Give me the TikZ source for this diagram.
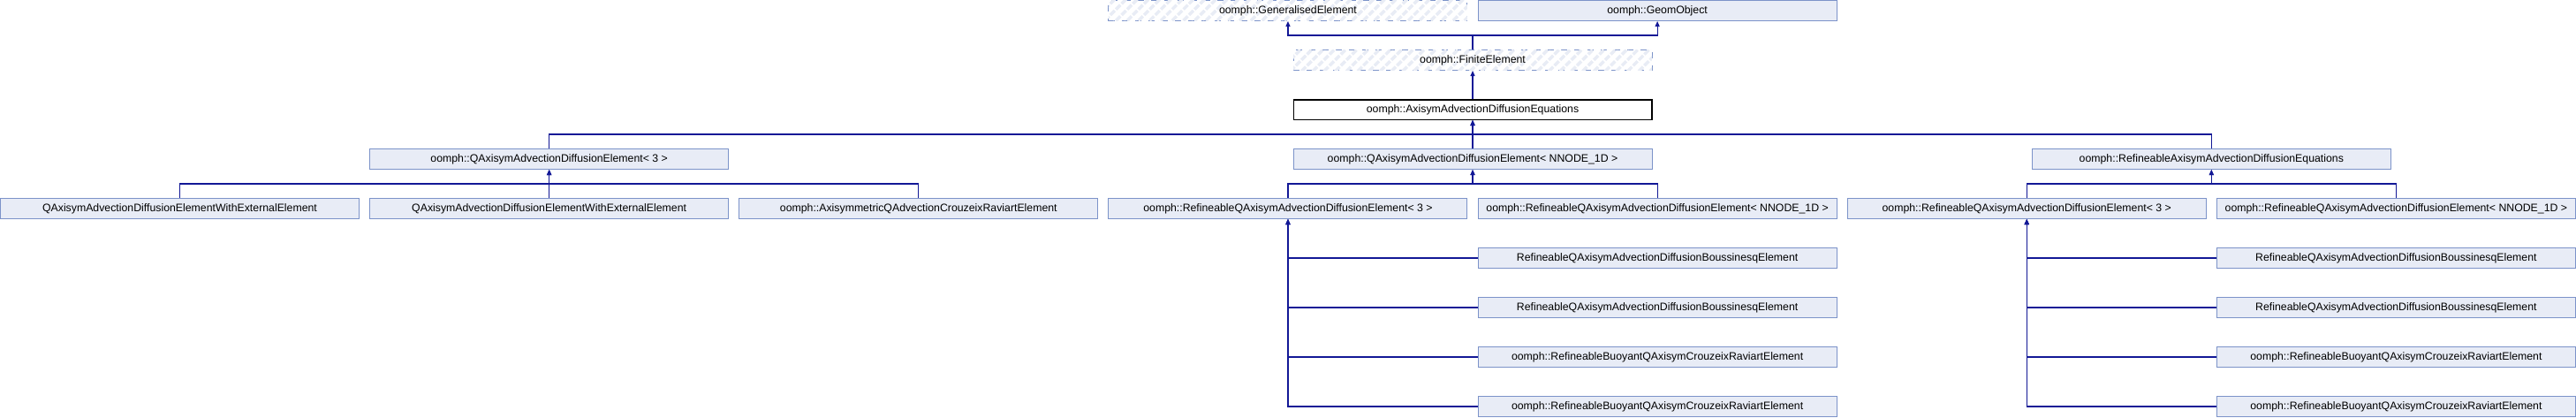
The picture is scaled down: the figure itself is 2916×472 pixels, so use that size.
\documentclass[tikz,border=0pt]{standalone}
\usepackage{fontspec}
\setmainfont{Liberation Sans}
\usetikzlibrary{arrows.meta,calc,patterns.meta}
\definecolor{boxfill}{HTML}{E8ECF6}
\definecolor{boxline}{HTML}{7C93C9}
\definecolor{conncol}{RGB}{18,24,150}
\definecolor{hatch}{HTML}{E8ECF5}
\tikzset{
  cls/.style={draw=boxline, fill=boxfill, line width=1pt, minimum width=406pt, minimum height=23pt,
    inner sep=0pt, font=\fontsize{12.3}{14}\selectfont},
  undoc/.style={draw=boxline, line width=1pt, dash pattern=on 7pt off 8pt, fill=white,
    postaction={pattern={Lines[angle=45,distance=9pt,line width=3.5pt]}, pattern color=hatch},
    minimum width=406pt, minimum height=23pt, inner sep=0pt, font=\fontsize{12.3}{14}\selectfont},
  cur/.style={draw=black, fill=white, line width=1.5pt, minimum width=405.5pt, minimum height=22.5pt,
    inner sep=0pt, font=\fontsize{12.3}{14}\selectfont},
  conn/.style={draw=conncol, line width=1.1pt, -{Triangle[length=6pt,width=5pt]}},
}
\def\P{418.15}
\begin{document}
\begin{tikzpicture}[x=1pt,y={(0pt,-1pt)}]
\useasboundingbox (0,0) rectangle (2916,472);
% row 0
\node[undoc] (ge) at ({3*\P+203.5},12) {oomph::GeneralisedElement};
\node[cls]   (go) at ({4*\P+203.5},12) {oomph::GeomObject};
% row 1
\node[undoc] (fe) at ({3.5*\P+203.5},68) {oomph::FiniteElement};
% row 2
\node[cur] (ade) at ({3.5*\P+203.5},124) {oomph::AxisymAdvectionDiffusionEquations};
% row 3
\node[cls] (q3)  at ({1*\P+203.5},180) {oomph::QAxisymAdvectionDiffusionElement< 3 >};
\node[cls] (qn)  at ({3.5*\P+203.5},180) {oomph::QAxisymAdvectionDiffusionElement< NNODE\_1D >};
\node[cls] (rade) at ({5.5*\P+203.5},180) {oomph::RefineableAxisymAdvectionDiffusionEquations};
% row 4
\node[cls] (wa) at ({0*\P+203.5},236) {QAxisymAdvectionDiffusionElementWithExternalElement};
\node[cls] (wb) at ({1*\P+203.5},236) {QAxisymAdvectionDiffusionElementWithExternalElement};
\node[cls] (acr) at ({2*\P+203.5},236) {oomph::AxisymmetricQAdvectionCrouzeixRaviartElement};
\node[cls] (ra3) at ({3*\P+203.5},236) {oomph::RefineableQAxisymAdvectionDiffusionElement< 3 >};
\node[cls] (ran) at ({4*\P+203.5},236) {oomph::RefineableQAxisymAdvectionDiffusionElement< NNODE\_1D >};
\node[cls] (rb3) at ({5*\P+203.5},236) {oomph::RefineableQAxisymAdvectionDiffusionElement< 3 >};
\node[cls] (rbn) at ({6*\P+203.5},236) {oomph::RefineableQAxisymAdvectionDiffusionElement< NNODE\_1D >};
% rows 5-8
\node[cls] (a5) at ({4*\P+203.5},292) {RefineableQAxisymAdvectionDiffusionBoussinesqElement};
\node[cls] (a6) at ({4*\P+203.5},348) {RefineableQAxisymAdvectionDiffusionBoussinesqElement};
\node[cls] (a7) at ({4*\P+203.5},404) {oomph::RefineableBuoyantQAxisymCrouzeixRaviartElement};
\node[cls] (a8) at ({4*\P+203.5},460) {oomph::RefineableBuoyantQAxisymCrouzeixRaviartElement};
\node[cls] (b5) at ({6*\P+203.5},292) {RefineableQAxisymAdvectionDiffusionBoussinesqElement};
\node[cls] (b6) at ({6*\P+203.5},348) {RefineableQAxisymAdvectionDiffusionBoussinesqElement};
\node[cls] (b7) at ({6*\P+203.5},404) {oomph::RefineableBuoyantQAxisymCrouzeixRaviartElement};
\node[cls] (b8) at ({6*\P+203.5},460) {oomph::RefineableBuoyantQAxisymCrouzeixRaviartElement};
% connectors
\draw[conn] (fe.north) |- ($(ge.south)+(0,16)$) -- (ge.south);
\draw[conn] (fe.north) |- ($(go.south)+(0,16)$) -- (go.south);
\draw[conn] (ade.north) -- (fe.south);
\foreach \c in {q3,qn,rade} \draw[conn] (\c.north) |- ($(ade.south)+(0,16)$) -- (ade.south);
\foreach \c in {wa,wb,acr} \draw[conn] (\c.north) |- ($(q3.south)+(0,16)$) -- (q3.south);
\foreach \c in {ra3,ran} \draw[conn] (\c.north) |- ($(qn.south)+(0,16)$) -- (qn.south);
\foreach \c in {rb3,rbn} \draw[conn] (\c.north) |- ($(rade.south)+(0,16)$) -- (rade.south);
\foreach \c in {a5,a6,a7,a8} \draw[conn] (\c.west) -| (ra3.south);
\foreach \c in {b5,b6,b7,b8} \draw[conn] (\c.west) -| (rb3.south);
\end{tikzpicture}
\end{document}
